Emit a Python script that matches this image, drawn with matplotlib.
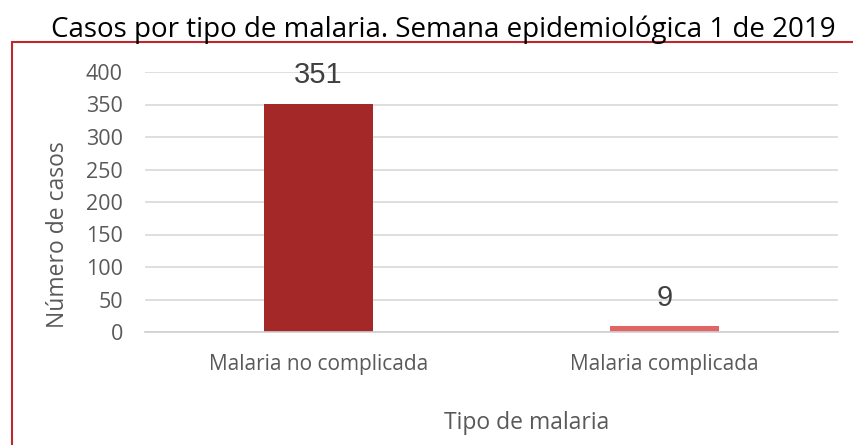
import matplotlib.pyplot as plt
from matplotlib.patches import Rectangle

# Data
categories = ['Malaria no complicada', 'Malaria complicada']
cases = [351, 9]
bar_colors = ['#A52828', '#E06666']
y_ticks = [0, 50, 100, 150, 200, 250, 300, 350, 400]

plt.rcParams['font.family'] = ['Open Sans', 'DejaVu Sans']

fig = plt.figure(figsize=(8.54, 4.45), dpi=100)
ax = fig.add_axes([145 / 854, 1 - 332 / 445, 693 / 854, 260 / 445])

x = range(len(categories))
bars = ax.bar(x, cases, width=0.315, color=bar_colors)

# Data labels
for xi, v in zip(x, cases):
    ax.annotate(str(v), (xi, v), xytext=(0, 10.5), textcoords='offset points',
                ha='center', va='bottom', fontsize=21, color='#404040',
                family='Liberation Sans')

ax.set_xlim(-0.5, 1.5)
ax.set_ylim(0, 400)
ax.set_yticks(y_ticks)
ax.set_xticks(list(x))
ax.set_xticklabels(categories)
ax.tick_params(axis='x', length=0, pad=16, labelsize=15, labelcolor='#595959')
ax.tick_params(axis='y', length=0, pad=16, labelsize=15.5, labelcolor='#595959')
ax.grid(axis='y', color='#D9D9D9', linewidth=1.2)
ax.set_axisbelow(True)
for s in ['top', 'right', 'left']:
    ax.spines[s].set_visible(False)
ax.spines['bottom'].set_color('#D0D0D0')
ax.spines['bottom'].set_linewidth(1.2)

ax.set_ylabel('Número de casos', fontsize=16.5, color='#595959', va='center')
ax.yaxis.set_label_coords(-0.125, 0.373)
ax.set_xlabel('Tipo de malaria', fontsize=16.5, color='#595959', va='center')
ax.xaxis.set_label_coords(0.55, -0.35)

fig.text(443 / 854, 1 - 30 / 445, 'Casos por tipo de malaria. Semana epidemiológica 1 de 2019',
         ha='center', va='center', fontsize=20, color='black')

# Red frame
fig.patches.append(Rectangle((12 / 854, -0.1), 1.0, 0.1 + (445 - 42) / 445,
                             transform=fig.transFigure, fill=False,
                             edgecolor='#C0272D', linewidth=1.5))

fig.savefig('out.png', dpi=100)
